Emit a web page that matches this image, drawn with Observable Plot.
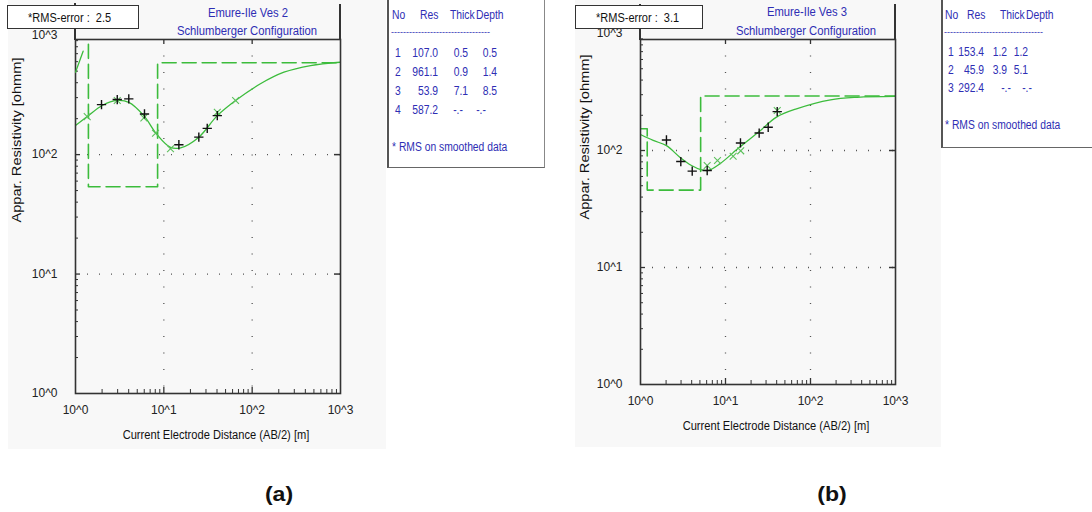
<!DOCTYPE html>
<html><head><meta charset="utf-8">
<script src="https://cdn.jsdelivr.net/npm/d3@7"></script>
<script src="https://cdn.jsdelivr.net/npm/@observablehq/plot@0.6"></script>
<style>
html,body{margin:0;padding:0;background:#fff;}
#root{position:relative;width:1092px;height:512px;overflow:hidden;background:#fff;font-family:"Liberation Sans",Arial,sans-serif;}
.box{position:absolute;box-sizing:border-box;}
.t{position:absolute;white-space:pre;line-height:1;}
.plotwrap{position:absolute;top:0;}
</style>
</head><body><div id="root"></div>
<script>
// ---------------- data ----------------
const tickValues = [1, 10, 100, 1000];

// Panel (a): Emure-Ile Ves 2
const a_title = "Emure-Ile Ves 2";
const a_subtitle = "Schlumberger Configuration";
const a_rms = "2.5";
const a_layerNo = [1, 2, 3, 4];
const a_res = [107.0, 961.1, 53.9, 587.2];
const a_thick = [0.5, 0.9, 7.1, null];
const a_depth = [0.5, 1.4, 8.5, null];
const a_curveX = [1, 1.357, 2.005, 2.97, 4.01, 5.94, 8.26, 11.9, 15.5, 24.9, 40.3, 64.9, 124, 229, 459, 1000];
const a_curveY = [175, 208, 258, 284, 274, 212, 149, 115, 114, 140, 212, 284, 392, 490, 557, 594];
const a_spurX = [1, 1.22];
const a_spurY = [490, 734];
const a_fieldX = [1.97, 2.97, 4.01, 6.04, 14.8, 24.9, 31.0, 40.3];
const a_fieldY = [262, 289, 293, 219, 121, 140, 166, 212];
const a_smoothX = [1.357, 2.97, 5.94, 8.05, 11.9, 40.3, 64.9];
const a_smoothY = [208, 284, 203, 151, 112, 226, 284];

// Panel (b): Emure-Ile Ves 3
const b_title = "Emure-Ile Ves 3";
const b_subtitle = "Schlumberger Configuration";
const b_rms = "3.1";
const b_layerNo = [1, 2, 3];
const b_res = [153.4, 45.9, 292.4];
const b_thick = [1.2, 3.9, null];
const b_depth = [1.2, 5.1, null];
const b_curveX = [1, 1.41, 2.02, 2.9, 3.98, 5.22, 6.26, 8.57, 14.7, 24.3, 39.8, 68.4, 172, 354, 1000];
const b_curveY = [137, 122, 110, 87.7, 74.5, 68.4, 67.5, 76.9, 107, 143, 193, 227, 271, 285, 290];
const b_fieldX = [2.02, 2.98, 4.06, 6.09, 15.0, 24.9, 31.8, 40.6];
const b_fieldY = [123, 80.5, 66.6, 67.5, 116, 141, 158, 215];
const b_smoothX = [6.09, 8.05, 12.3, 15.1, 40.6];
const b_smoothY = [74.5, 82.2, 89.3, 99.4, 220];

const xLabel = "Current Electrode Distance (AB/2) [m]";
const yLabel = "Appar. Resistivity [ohmm]";
const legendHeader = ["No", "Res", "Thick", "Depth"];
const legendNote = "* RMS on smoothed data";
const rmsLabel = "*RMS-error :  ";
const panelTags = ["(a)", "(b)"];

// ---------------- helpers ----------------
const GREEN = "#3cbc3c";
const BLUE = "#2e2eb4";
const root = document.getElementById("root");
const zip = (xs, ys) => xs.map((x, i) => ({x, y: ys[i]}));
const minors = [];
for (let k = 0; k < 3; k++) for (let m = 2; m <= 9; m++) minors.push(m * 10 ** k);
const pow = d => "10^" + Math.round(Math.log10(d));

function modelSteps(res, depth, xmin, xmax) {
  const pts = [];
  let x0 = xmin;
  for (let i = 0; i < res.length; i++) {
    const x1 = depth[i] == null ? xmax : depth[i];
    const s = Math.max(x0, xmin), e = Math.min(x1, xmax);
    if (e > s) pts.push({x: s, y: res[i]}, {x: e, y: res[i]});
    x0 = x1;
  }
  return pts;
}

function box(x, y, w, h, css) {
  const d = document.createElement("div");
  d.className = "box";
  Object.assign(d.style, {left: x + "px", top: y + "px", width: w + "px", height: h + "px"}, css || {});
  root.appendChild(d);
  return d;
}
function text(str, x, y, o = {}) {
  const d = document.createElement("div");
  d.className = "t";
  d.textContent = str;
  const anchor = o.anchor || "start";
  const tx = anchor === "middle" ? "-50%" : anchor === "end" ? "-100%" : "0";
  const origin = anchor === "middle" ? "50% 50%" : anchor === "end" ? "100% 50%" : "0 50%";
  const sx = o.sx == null ? 0.88 : o.sx;
  Object.assign(d.style, {
    left: x + "px", top: y + "px",
    fontSize: (o.size || 12.5) + "px",
    color: o.color || "#111",
    fontWeight: o.weight || "normal",
    transformOrigin: o.rotate ? "50% 50%" : origin,
    transform: `translate(${tx},-50%)` + (o.rotate ? ` rotate(${o.rotate}deg)` : "") + ` scaleX(${sx})`
  });
  root.appendChild(d);
  return d;
}

function panel(cfg) {
  const {left, width, height, ml, mr, mt, mb, yTop, curve, spur, field, smooth, res, depth} = cfg;
  const innerW = width - ml - mr, innerH = height - mt - mb;
  const marks = [
    Plot.ruleX([10, 100], {stroke: "#555", strokeWidth: 1.3, strokeDasharray: "1,15.5"}),
    Plot.ruleY([10, 100], {stroke: "#555", strokeWidth: 1.3, strokeDasharray: "1,11"}),
    Plot.tickX(minors, {insetTop: innerH - 4, stroke: "#333"}),
    Plot.tickY(minors, {insetRight: innerW - 3, stroke: "#333"}),
    Plot.tickX([10, 100], {insetTop: innerH - 6, stroke: "#333", strokeWidth: 1.3}),
    Plot.tickX([10, 100], {insetBottom: innerH - 5, stroke: "#333", strokeWidth: 1.3}),
    Plot.tickY([10, 100], {insetRight: innerW - 5, stroke: "#333", strokeWidth: 1.3}),
    Plot.tickY([10, 100], {insetLeft: innerW - 6, stroke: "#333", strokeWidth: 1.5}),
    Plot.line(modelSteps(res, depth, 1, 1000), {x: "x", y: "y", stroke: GREEN, strokeWidth: 1.6, strokeDasharray: "14,6", clip: true}),
    Plot.line(curve, {x: "x", y: "y", curve: "catmull-rom", stroke: GREEN, strokeWidth: 1.3, clip: true}),
    Plot.dot(smooth, {x: "x", y: "y", symbol: "times", r: 3.2, stroke: "#5cc05c", strokeWidth: 1.1}),
    Plot.dot(field, {x: "x", y: "y", symbol: "plus", r: 3.1, stroke: "#111", strokeWidth: 1.4}),
    Plot.frame({stroke: "#333", strokeWidth: 1.6}),
    Plot.axisX({ticks: tickValues, tickSize: 0, tickPadding: 12, tickFormat: pow, label: null, fontSize: 12}),
    Plot.axisY({ticks: tickValues, tickSize: 0, tickPadding: 18, tickFormat: pow, label: null, fontSize: 12})
  ];
  if (spur) marks.push(Plot.line(spur, {x: "x", y: "y", stroke: GREEN, strokeWidth: 1.3, clip: true}));
  const svg = Plot.plot({
    width, height, marginLeft: ml, marginRight: mr, marginTop: mt, marginBottom: mb,
    style: {background: "transparent", fontFamily: '"Liberation Sans", Arial, sans-serif', fontSize: "12px", color: "#222"},
    x: {type: "log", domain: [1, 1000]},
    y: {type: "log", domain: [1, yTop]},
    marks
  });
  const wrap = document.createElement("div");
  wrap.className = "plotwrap";
  wrap.style.left = left + "px";
  wrap.style.width = width + "px";
  wrap.appendChild(svg);
  return wrap;
}

function legend(x, w, h, cols, no, res, thick, depth, rowY, noteY) {
  const L = {color: BLUE, size: 12, sx: 0.86};
  box(x, -2, w, h + 2, {background: "#fff", borderLeft: "2px solid #555", borderBottom: "1px solid #666", borderRight: "1px solid #888"});
  legendHeader.forEach((s, i) => text(s, cols.head[i], 15, L));
  text("-".repeat(33), cols.head[0] - 1, 32, {color: BLUE, size: 9, sx: 1});
  no.forEach((n, i) => {
    const y = rowY[i];
    text(String(n), cols.no, y, L);
    text(res[i].toFixed(1), cols.res, y, {...L, anchor: "end"});
    if (thick[i] == null) text("-.-", cols.thickC, y, {...L, anchor: "middle"});
    else text(thick[i].toFixed(1), cols.thick, y, {...L, anchor: "end"});
    if (depth[i] == null) text("-.-", cols.depthC, y, {...L, anchor: "middle"});
    else text(depth[i].toFixed(1), cols.depth, y, {...L, anchor: "end"});
  });
  text(legendNote, cols.head[0], noteY, L);
}

// ---------------- panel (a) ----------------
box(8, 0, 378, 449, {background: "#f8f8f8"});
box(74, 3, 2, 37, {background: "#333"});
box(339, 4, 2, 36, {background: "#333"});
root.appendChild(panel({
  left: 0, width: 390, height: 450, ml: 75, mr: 50, mt: 39, mb: 57, yTop: 920,
  curve: zip(a_curveX, a_curveY), spur: zip(a_spurX, a_spurY),
  field: zip(a_fieldX, a_fieldY), smooth: zip(a_smoothX, a_smoothY),
  res: a_res, depth: a_depth
}));
box(7, 5, 132, 24, {border: "1.5px solid #333", background: "#fff"});
text(rmsLabel + a_rms, 28, 18);
text(a_title, 248, 13, {color: BLUE, anchor: "middle", sx: 0.9});
text(a_subtitle, 247, 31, {color: BLUE, anchor: "middle", sx: 0.9});
text(yLabel, 17, 140, {size: 12, anchor: "middle", rotate: -90, sx: 1.22});
text(xLabel, 216, 435, {anchor: "middle", sx: 0.89});
legend(387, 158, 168,
  {head: [392, 420, 450, 476], no: 395, res: 438, thick: 468, depth: 497, thickC: 458, depthC: 481},
  a_layerNo, a_res, a_thick, a_depth, [53, 72, 91, 110], 147);

// ---------------- panel (b) ----------------
box(575, 0, 366, 447, {background: "#f8f8f8"});
box(639, 4, 2, 36, {background: "#333"});
box(894, 4, 2, 36, {background: "#333"});
root.appendChild(panel({
  left: 570, width: 370, height: 450, ml: 70, mr: 45, mt: 39, mb: 66, yTop: 889,
  curve: zip(b_curveX, b_curveY), spur: null,
  field: zip(b_fieldX, b_fieldY), smooth: zip(b_smoothX, b_smoothY),
  res: b_res, depth: b_depth
}));
box(575, 5, 128, 24, {border: "1.5px solid #333", background: "#fff"});
text(rmsLabel + b_rms, 596, 18);
text(b_title, 807, 12, {color: BLUE, anchor: "middle", sx: 0.9});
text(b_subtitle, 806, 31, {color: BLUE, anchor: "middle", sx: 0.9});
text(yLabel, 585, 137, {size: 12, anchor: "middle", rotate: -90, sx: 1.22});
text(xLabel, 776, 426, {anchor: "middle", sx: 0.89});
legend(941, 160, 148,
  {head: [945, 967, 1000, 1026], no: 948, res: 984, thick: 1007, depth: 1028, thickC: 1006, depthC: 1027},
  b_layerNo, b_res, b_thick, b_depth, [52, 70, 88], 125);

// ---------------- tags ----------------
text(panelTags[0], 279, 493, {size: 21, weight: "bold", anchor: "middle", sx: 1.1});
text(panelTags[1], 832, 493, {size: 21, weight: "bold", anchor: "middle", sx: 1.1});
</script>
</body></html>
